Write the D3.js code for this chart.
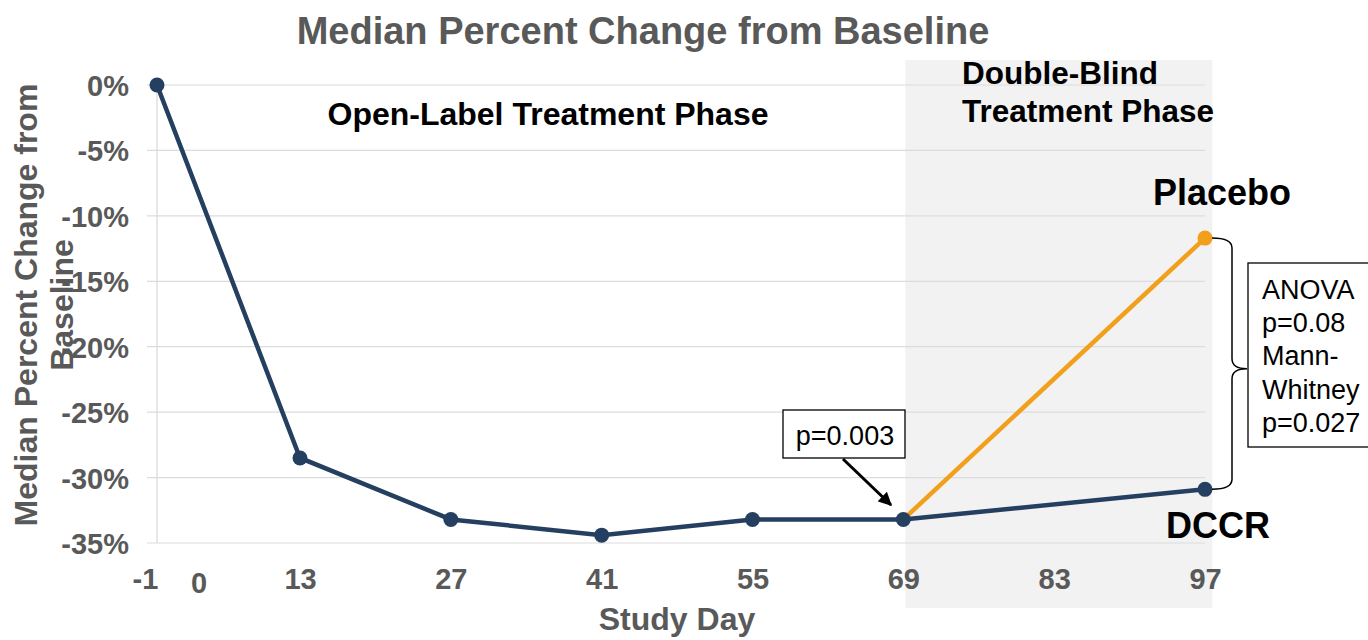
<!DOCTYPE html>
<html><head><meta charset="utf-8">
<script src="https://cdn.jsdelivr.net/npm/d3@7"></script>
<style>body{margin:0;background:#fff;}svg{display:block;font-family:"Liberation Sans",Arial,sans-serif;}</style>
</head><body>
<svg id="c" width="1368" height="640"></svg>
<script>
const xTicks = [-1, 13, 27, 41, 55, 69, 83, 97];
const yTicks = [0, -5, -10, -15, -20, -25, -30, -35];
const dccrDays = [-1, 13, 27, 41, 55, 69, 97];
const dccrValues = [0, -28.5, -33.2, -34.4, -33.2, -33.2, -30.9];
const placeboDays = [69, 97];
const placeboValues = [-33.2, -11.7];
const statLines = ["ANOVA", "p=0.08", "Mann-", "Whitney", "p=0.027"];

const svg = d3.select("#c");
const x = d3.scaleLinear().domain([-1, 13, 97]).range([157, 300, 1205]);
const y = d3.scaleLinear().domain([0, -35]).range([85, 543]);
const gray = "#595959", navy = "#243f60", orange = "#f29f1c";
const FF = "Liberation Sans, Arial, sans-serif";

// shaded double-blind region
svg.append("rect").attr("x", x(69) + 2).attr("y", 60).attr("width", 307).attr("height", 548).attr("fill", "#f2f2f2");

// gridlines
svg.append("g").selectAll("line").data(yTicks).join("line")
  .attr("x1", 147).attr("x2", x(97)).attr("y1", d => y(d)).attr("y2", d => y(d))
  .attr("stroke", "#dcdcdc").attr("stroke-width", 1.2);
svg.append("line").attr("x1", x(-1)).attr("x2", x(-1)).attr("y1", y(0)).attr("y2", y(-35)).attr("stroke", "#d9d9d9").attr("stroke-width", 1.2);

// y axis labels
const yAxis = d3.axisLeft(y).tickValues(yTicks).tickFormat(d => String(d) + "%").tickSize(0).tickPadding(0);
const ga = svg.append("g").attr("transform", "translate(129,0)").call(yAxis);
ga.select(".domain").remove();
ga.selectAll("text").attr("font-size", 29).attr("font-weight", "bold").attr("fill", gray).attr("font-family", FF).attr("dy", "0.36em");

// x axis labels
const xAxis = d3.axisBottom(x).tickValues(xTicks).tickFormat(d => String(d)).tickSize(0).tickPadding(0);
const gx = svg.append("g").attr("transform", "translate(0,568)").call(xAxis);
gx.select(".domain").remove();
gx.selectAll("text").attr("font-size", 29).attr("font-weight", "bold").attr("fill", gray).attr("font-family", FF);
gx.selectAll(".tick").filter(d => d === -1).select("text").attr("x", -12);
svg.append("text").attr("x", 199).attr("y", 593).attr("text-anchor", "middle").attr("font-size", 29).attr("font-weight", "bold").attr("fill", gray).text("0");

// titles
svg.append("text").attr("x", 643).attr("y", 44).attr("text-anchor", "middle").attr("font-size", 38).attr("font-weight", "bold").attr("fill", gray).text("Median Percent Change from Baseline");
svg.append("text").attr("x", 677).attr("y", 630).attr("text-anchor", "middle").attr("font-size", 32).attr("font-weight", "bold").attr("fill", gray).text("Study Day");
svg.append("text").attr("transform", "translate(37,305) rotate(-90)").attr("text-anchor", "middle").attr("font-size", 32).attr("font-weight", "bold").attr("fill", gray).text("Median Percent Change from");
svg.append("text").attr("transform", "translate(73,305) rotate(-90)").attr("text-anchor", "middle").attr("font-size", 32).attr("font-weight", "bold").attr("fill", gray).text("Baseline");

// phase labels
svg.append("text").attr("x", 548).attr("y", 125).attr("text-anchor", "middle").attr("font-size", 32).attr("font-weight", "bold").attr("fill", "#000").text("Open-Label Treatment Phase");
svg.append("text").attr("x", 962).attr("y", 84).attr("font-size", 31.5).attr("font-weight", "bold").attr("fill", "#000").text("Double-Blind");
svg.append("text").attr("x", 962).attr("y", 122).attr("font-size", 31.5).attr("font-weight", "bold").attr("fill", "#000").text("Treatment Phase");

// lines
const line = d3.line().x(d => x(d[0])).y(d => y(d[1]));
const dccr = dccrDays.map((d, i) => [d, dccrValues[i]]);
const plac = placeboDays.map((d, i) => [d, placeboValues[i]]);
svg.append("path").datum(plac).attr("d", line).attr("fill", "none").attr("stroke", orange).attr("stroke-width", 4.5);
svg.append("path").datum(dccr).attr("d", line).attr("fill", "none").attr("stroke", navy).attr("stroke-width", 4.5);
svg.append("g").selectAll("circle").data(plac.slice(1)).join("circle").attr("cx", d => x(d[0])).attr("cy", d => y(d[1])).attr("r", 7.5).attr("fill", orange);
svg.append("g").selectAll("circle").data(dccr).join("circle").attr("cx", d => x(d[0])).attr("cy", d => y(d[1])).attr("r", 7.5).attr("fill", navy);

// series labels
svg.append("text").attr("x", 1153).attr("y", 205).attr("font-size", 36).attr("font-weight", "bold").attr("fill", "#000").text("Placebo");
svg.append("text").attr("x", 1166).attr("y", 538).attr("font-size", 36).attr("font-weight", "bold").attr("fill", "#000").text("DCCR");

// p=0.003 box and arrow
svg.append("defs").append("marker").attr("id", "ah").attr("viewBox", "0 0 10 10").attr("refX", 9).attr("refY", 5)
  .attr("markerWidth", 4.5).attr("markerHeight", 4.5).attr("orient", "auto").append("path").attr("d", "M0,0L10,5L0,10z").attr("fill", "#000");
svg.append("rect").attr("x", 783).attr("y", 410).attr("width", 122).attr("height", 48).attr("fill", "#fff").attr("stroke", "#000").attr("stroke-width", 1.3);
svg.append("text").attr("x", 845).attr("y", 445).attr("text-anchor", "middle").attr("font-size", 27).attr("fill", "#000").text("p=0.003");
svg.append("line").attr("x1", 843).attr("y1", 459).attr("x2", 891).attr("y2", 505).attr("stroke", "#000").attr("stroke-width", 3).attr("marker-end", "url(#ah)");

// bracket
const yt = y(placeboValues[1]), yb = y(dccrValues[6]), ym = (yt + yb) / 2 + 5;
const bx = 1212, bw = 20;
svg.append("path").attr("d",
  `M${bx},${yt} Q${bx + bw},${yt} ${bx + bw},${yt + 10} L${bx + bw},${ym - 10} Q${bx + bw},${ym} ${bx + bw + 15},${ym} Q${bx + bw},${ym} ${bx + bw},${ym + 10} L${bx + bw},${yb - 10} Q${bx + bw},${yb} ${bx},${yb}`)
  .attr("fill", "none").attr("stroke", "#000").attr("stroke-width", 1.5);

// stats box
svg.append("rect").attr("x", 1248).attr("y", 263).attr("width", 125).attr("height", 184).attr("fill", "#fff").attr("stroke", "#000").attr("stroke-width", 1.3);
svg.append("g").selectAll("text").data(statLines).join("text").attr("x", 1262).attr("y", (d, i) => 299 + i * 33.2)
  .attr("font-size", 27).attr("fill", "#000").text(d => d);
</script>
</body></html>
